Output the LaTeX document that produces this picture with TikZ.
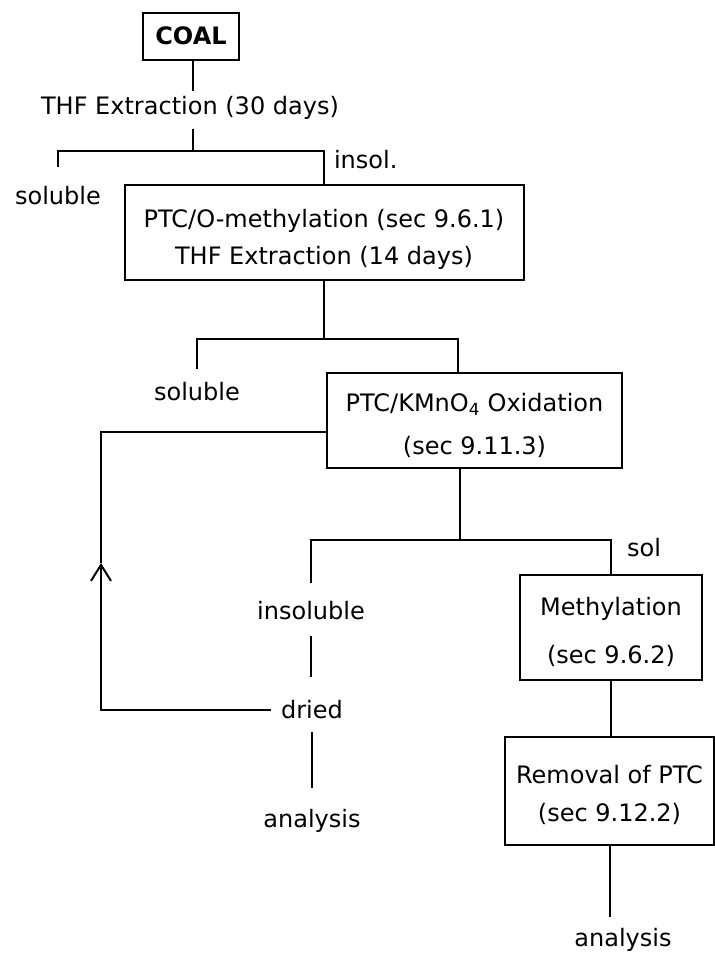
\documentclass[tikz,border=0pt]{standalone}
\usepackage{fontspec}
\setmainfont{DejaVu Sans}
\usetikzlibrary{arrows.meta}

% extra room above the first line of a box
\newcommand{\padtop}[1]{\rule{0pt}{#1}}

\begin{document}
\begin{tikzpicture}[
        x=1pt, y=-1pt,
        line width=2pt,
        every node/.style={font=\fontsize{24}{29}\selectfont, inner sep=0pt},
        stepbox/.style={draw, align=center},
        backarrow/.style={-{Straight Barb[length=16pt,width=20pt]}},
    ]
    \useasboundingbox (0,0) rectangle (715,954);

    % process boxes
    \node[stepbox, minimum width=96pt, minimum height=47pt, font=\fontsize{24}{29}\selectfont\bfseries] (coal) at (191,36) {COAL};
    \node[stepbox, minimum width=399pt, minimum height=95pt] (ptc) at (324,232.5) {\padtop{32pt}PTC/O-methylation (sec 9.6.1)\\[8pt]THF Extraction (14 days)};
    \node[stepbox, minimum width=295pt, minimum height=95pt] (oxid) at (474.5,420.5) {\padtop{28pt}PTC/KMnO\textsubscript{4} Oxidation\\[14pt](sec 9.11.3)};
    \node[stepbox, minimum width=182pt, minimum height=105pt] (meth) at (611,627.5) {\padtop{28pt}Methylation\\[19pt](sec 9.6.2)};
    \node[stepbox, minimum width=209pt, minimum height=108pt] (remov) at (609.5,791) {\padtop{27pt}Removal of PTC\\[9pt](sec 9.12.2)};

    % plain labels
    \node (thf) at (190,108) {THF Extraction (30 days)};
    \node[anchor=west] (insol) at (333,160) {insol.};
    \node (sol1) at (58,196) {soluble};
    \node (sol2) at (197,392) {soluble};
    \node (insolub) at (311,611) {insoluble};
    \node (dried) at (312,710) {dried};
    \node (ana1) at (312,821) {analysis};
    \node (sol3) at (644,548) {sol};
    \node (ana2) at (623,940) {analysis};

    % branch points
    \coordinate (f1) at (193,151);
    \coordinate (f2) at (458,339);
    \coordinate (f3) at (460,540);
    \coordinate (loop) at (101,563);

    % first extraction
    \draw[shorten >=4pt] (coal.south -| f1) -- (thf.north -| f1);
    \draw[shorten <=8pt] (thf.south -| f1) -- (f1);
    \draw[shorten <=19pt] (sol1.north) |- (f1) -| (ptc.north);

    % second extraction
    \draw (ptc.south) -- (ptc.south |- f2);
    \draw[shorten <=13pt] (sol2.north) |- (f2) -- (f2 |- oxid.north);

    % oxidation products
    \draw (oxid.south -| f3) -- (f3);
    \draw[shorten <=18pt] (insolub.north) |- (f3) -| (meth.north);
    \draw[shorten <=15pt, shorten >=23pt] (insolub.south) -- (insolub.south |- dried.north);
    \draw[shorten <=12pt, shorten >=20pt] (dried.south) -- (dried.south |- ana1.north);

    % dried residue goes back to oxidation
    \draw[backarrow, shorten <=9pt] (dried.west) -| (loop);
    \draw (loop) |- ([yshift=-11.5pt]oxid.west);

    % soluble fraction
    \draw (meth.south) -- (meth.south |- remov.north);
    \draw[shorten >=10pt] (remov.south) -- (remov.south |- ana2.north);
\end{tikzpicture}
\end{document}
